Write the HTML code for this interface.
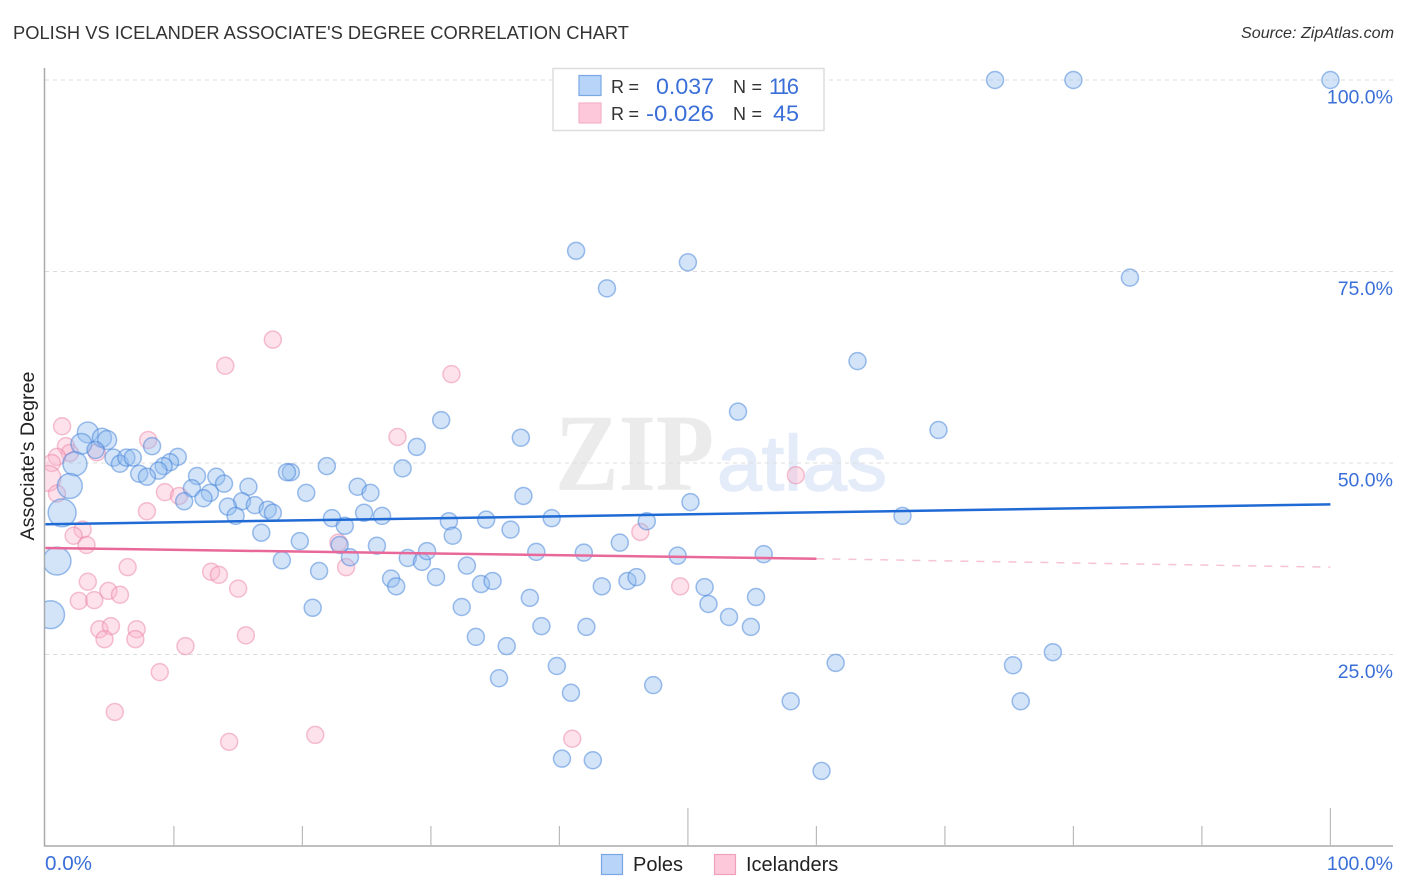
<!DOCTYPE html>
<html lang="en">
<head>
<meta charset="utf-8">
<title>Polish vs Icelander Associate's Degree Correlation Chart</title>
<style>
html,body{margin:0;padding:0;background:#fff;width:1406px;height:892px;overflow:hidden}
svg{display:block;font-family:"Liberation Sans",sans-serif}
</style>
</head>
<body>
<svg id="chart" width="1406" height="892" viewBox="0 0 1406 892" xmlns="http://www.w3.org/2000/svg">
  <defs>
    <clipPath id="plot-clip"><rect x="45" y="60" width="1361" height="786"/></clipPath>
  </defs>
  <rect x="0" y="0" width="1406" height="892" fill="#fff"/>
  <text x="13" y="39" font-size="18.5" fill="#333" textLength="616" lengthAdjust="spacingAndGlyphs">POLISH VS ICELANDER ASSOCIATE'S DEGREE CORRELATION CHART</text>
  <text x="1394" y="38" font-size="16" font-style="italic" fill="#333" text-anchor="end" textLength="153" lengthAdjust="spacingAndGlyphs">Source: ZipAtlas.com</text>
  <g>
    <text x="555" y="490" font-family="'Liberation Serif',serif" font-weight="bold" font-size="110" fill="#ebebeb" textLength="159" lengthAdjust="spacingAndGlyphs">ZIP</text>
    <text x="717" y="490" font-size="78" fill="#e4ecfa" stroke="#e4ecfa" stroke-width="1.5" textLength="170" lengthAdjust="spacingAndGlyphs">atlas</text>
  </g>
  <g id="grid"></g>
  <g id="axes"></g>
  <g id="points" clip-path="url(#plot-clip)"></g>
  <g id="trends"></g>
  <text transform="translate(34,456) rotate(-90)" font-size="19.7" fill="#222" text-anchor="middle">Associate's Degree</text>
  <g>
    <rect x="553" y="68.5" width="271" height="62" fill="#fff" stroke="#ddd" stroke-width="1.5"/>
    <rect x="579" y="75.5" width="22" height="20" fill="#b8d4f8" stroke="#7aa8e4" stroke-width="1.2"/>
    <rect x="579" y="103" width="22" height="20" fill="#fcc8da" stroke="#f4b0c8" stroke-width="1.2"/>
    <text x="611" y="93" font-size="18" fill="#333" textLength="28">R =</text>
    <text x="656" y="94" font-size="22" fill="#3a6fd8" textLength="58" lengthAdjust="spacingAndGlyphs">0.037</text>
    <text x="733" y="93" font-size="18" fill="#333" textLength="29">N =</text>
    <text x="769" y="94" font-size="22" fill="#3a6fd8" textLength="30" lengthAdjust="spacing">116</text>
    <text x="611" y="120" font-size="18" fill="#333" textLength="28">R =</text>
    <text x="646" y="121" font-size="22" fill="#3a6fd8" textLength="68" lengthAdjust="spacingAndGlyphs">-0.026</text>
    <text x="733" y="120" font-size="18" fill="#333" textLength="29">N =</text>
    <text x="773" y="121" font-size="22" fill="#3a6fd8" textLength="26" lengthAdjust="spacingAndGlyphs">45</text>
  </g>
  <g>
    <rect x="601.5" y="854.5" width="21" height="20" fill="#b8d4f8" stroke="#7aa8e4" stroke-width="1.2"/>
    <text x="633" y="871" font-size="20" fill="#222">Poles</text>
    <rect x="714.5" y="854.5" width="21" height="20" fill="#fcc8da" stroke="#f0a0bc" stroke-width="1.2"/>
    <text x="746" y="871" font-size="20" fill="#222">Icelanders</text>
  </g>
</svg>
<script>
const polesX = [73.9,80.0,100,41.3,50.0,43.7,84.4,63.2,53.9,69.5,30.8,37.0,28.9,27.8,21.9,19.1,18.8,20.3,24.3,25.3,3.3,4.4,4.8,2.8,3.9,8.3,10.3,5.3,5.8,6.3,6.8,9.7,9.2,8.8,7.3,7.9,11.8,13.3,11.4,13.9,12.8,12.3,10.8,15.8,15.3,14.2,16.3,14.8,17.3,17.7,16.8,2.3,1.9,1.3,0.9,0.4,22.3,23.3,24.8,26.2,19.8,18.4,21.3,20.8,22.9,23.7,25.8,28.2,29.3,29.7,26.9,27.3,30.4,32.8,31.4,34.3,31.7,36.2,37.2,39.4,38.2,41.9,44.7,46.8,50.2,49.2,55.9,66.7,32.4,33.9,34.8,37.7,38.6,42.1,43.3,45.3,46.0,51.3,51.6,55.3,53.2,54.9,33.5,35.9,35.3,39.8,40.9,40.2,42.6,47.3,58.0,61.5,60.4,75.3,78.4,75.9];
const polesY = [100,100,100,77.7,76.2,72.8,74.2,63.3,56.7,54.3,55.6,53.3,52.1,49.3,49.6,48.8,48.8,46.1,46.9,46.1,54.0,53.3,53.0,52.5,51.7,52.2,50.8,50.7,49.9,50.7,50.7,50.1,49.6,49.0,48.6,48.2,48.3,48.2,46.7,47.3,46.1,45.4,45.0,46.9,45.0,44.3,44.5,43.1,43.9,43.5,40.9,49.9,47.0,43.5,37.2,30.2,42.8,41.8,43.5,43.1,39.8,37.3,35.9,31.1,39.3,37.7,39.2,37.6,37.1,38.5,34.9,33.9,35.1,36.6,42.4,42.6,40.5,41.3,45.7,42.8,38.4,38.3,39.6,42.4,44.9,37.9,38.1,43.1,31.2,34.2,34.6,32.4,28.7,28.6,33.9,34.6,35.1,33.8,31.6,32.5,29.9,28.6,27.3,26.1,21.9,23.5,20.0,11.4,11.2,21.0,18.9,23.9,9.8,23.6,25.3,18.9];
const polesWeight = [1,1,1,1,1,1,1,1,1,1,1,1,1,1,1,1,1,1,1,1,1.5,1.25,1.25,1.5,1,1,1,1,1,1,1,1,1,1,1,1,1,1,1,1,1,1,1,1,1,1,1,1,1,1,1,2,2.15,2.7,2.7,2.7,1,1,1,1,1,1,1,1,1,1,1,1,1,1,1,1,1,1,1,1,1,1,1,1,1,1,1,1,1,1,1,1,1,1,1,1,1,1,1,1,1,1,1,1,1,1,1,1,1,1,1,1,1,1,1,1,1,1,1,1];
const icelandersX = [1.3,1.6,1.9,0.9,0.5,0.2,0.9,2.9,2.2,3.2,8.0,4.0,9.3,10.4,7.9,6.4,3.3,4.9,5.8,2.6,3.8,12.9,13.5,15.0,4.2,5.1,4.6,7.1,7.0,15.6,10.9,8.9,5.4,14.3,21.0,17.7,14.0,31.6,27.4,22.8,23.4,46.3,49.4,58.4,41.0];
const icelandersY = [54.8,52.2,51.3,50.8,50.0,48.0,46.0,41.3,40.5,39.3,53.0,51.4,46.2,45.7,43.7,36.4,34.5,33.3,32.8,32.0,32.1,35.8,35.4,33.6,28.3,28.7,27.0,28.3,27.0,27.5,26.1,22.7,17.5,13.6,14.5,66.1,62.7,61.6,53.4,39.6,36.4,41.0,33.9,48.4,14.0];
const icelandersWeight = [1,1,1,1,1,2.3,1,1,1,1,1,1,1,1,1,1,1,1,1,1,1,1,1,1,1,1,1,1,1,1,1,1,1,1,1,1,1,1,1,1,1,1,1,1,1];
const polesTrend = [42.0, 44.6];
const icelandersTrendSolid = [38.9, 37.5];
const icelandersTrendDashed = [37.5, 36.4];
const trendSolidEnd = [60];
const yTickValues = [100,75,50,25];
const yTickLabels = ["100.0%","75.0%","50.0%","25.0%"];
const xTickValues = [10,20,30,40,50,60,70,80,90,100];
const xMajorTicks = [50,100];
const xTickLabels = ["0.0%","100.0%"];

const NS = 'http://www.w3.org/2000/svg';
const xScale = v => 45.4 + v * 12.85;
const yScale = v => 846 - v * 7.66;
const rScale = w => 8.5 * Math.sqrt(w);

function make(parent, tag, attrs) {
  const el = document.createElementNS(NS, tag);
  for (const k in attrs) el.setAttribute(k, attrs[k]);
  parent.appendChild(el);
  return el;
}

const gridG = document.getElementById('grid');
const axesG = document.getElementById('axes');
const pointsG = document.getElementById('points');
const trendsG = document.getElementById('trends');

yTickValues.forEach((v, i) => {
  const line = make(gridG, 'line', {x1: 45, x2: 1393, y1: yScale(v), y2: yScale(v), stroke: '#dcdcdc', 'stroke-width': 1, 'stroke-dasharray': '4 4'});
  
  
  const label = make(axesG, 'text', {x: 1393, y: yScale(v) + 23.5, 'font-size': 19.5, fill: '#3a6fd8', 'text-anchor': 'end'});
  label.textContent = yTickLabels[i];
  
  
});

const yAxis = make(axesG, 'line', {x1: 44.5, x2: 44.5, y1: 68, y2: 846.5, stroke: '#aaa', 'stroke-width': 1.5});


const xAxis = make(axesG, 'line', {x1: 44, x2: 1393, y1: 846, y2: 846, stroke: '#aaa', 'stroke-width': 1.5});



xTickValues.forEach(v => {
  const top = xMajorTicks.includes(v) ? 808 : 826;
  const tick = make(axesG, 'line', {x1: xScale(v), x2: xScale(v), y1: top, y2: 846, stroke: '#bbb', 'stroke-width': 1.2});
  
  
});

const xLabelStart = make(axesG, 'text', {x: 45, y: 870, 'font-size': 20, fill: '#3a6fd8', textLength: 47, lengthAdjust: 'spacingAndGlyphs'});
xLabelStart.textContent = xTickLabels[0];


const xLabelEnd = make(axesG, 'text', {x: 1393, y: 870, 'font-size': 19.5, fill: '#3a6fd8', 'text-anchor': 'end'});
xLabelEnd.textContent = xTickLabels[1];



icelandersX.forEach((x, i) => {
  const c = make(pointsG, 'circle', {cx: xScale(x), cy: yScale(icelandersY[i]), r: rScale(icelandersWeight[i]), fill: '#f9b4ca', 'fill-opacity': 0.38, stroke: '#e87a9e', 'stroke-opacity': 0.45, 'stroke-width': 1.5});
  
  
});
polesX.forEach((x, i) => {
  const c = make(pointsG, 'circle', {cx: xScale(x), cy: yScale(polesY[i]), r: rScale(polesWeight[i]), fill: '#90bbf0', 'fill-opacity': 0.4, stroke: '#3f7fd8', 'stroke-opacity': 0.5, 'stroke-width': 1.5});
  
  
});

const pinkDash = make(trendsG, 'line', {x1: xScale(trendSolidEnd[0]), x2: xScale(100), y1: yScale(icelandersTrendDashed[0]), y2: yScale(icelandersTrendDashed[1]), stroke: '#e8689a', 'stroke-opacity': 0.4, 'stroke-width': 1.5, 'stroke-dasharray': '8 8'});


const pinkLine = make(trendsG, 'line', {x1: xScale(0), x2: xScale(trendSolidEnd[0]), y1: yScale(icelandersTrendSolid[0]), y2: yScale(icelandersTrendSolid[1]), stroke: '#e8689a', 'stroke-width': 2.5});


const blueLine = make(trendsG, 'line', {x1: xScale(0), x2: xScale(100), y1: yScale(polesTrend[0]), y2: yScale(polesTrend[1]), stroke: '#1f6ad4', 'stroke-width': 2.5});


</script>
</body>
</html>
